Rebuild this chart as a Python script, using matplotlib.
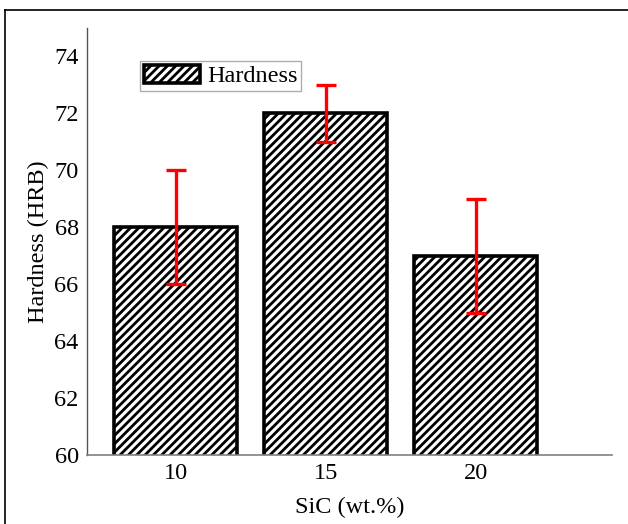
import matplotlib
matplotlib.use("Agg")
import matplotlib.pyplot as plt
from matplotlib.lines import Line2D

sic = ["10", "15", "20"]
hardness = [68, 72, 67]
err = [2, 1, 2]

plt.rcParams["font.family"] = ["Liberation Serif", "DejaVu Serif"]
plt.rcParams["hatch.linewidth"] = 2.0
plt.rcParams["hatch.color"] = "black"

fig = plt.figure(figsize=(6.28, 5.24), dpi=100)
ax = fig.add_axes([87 / 628, 1 - 455 / 524, 525 / 628, 427 / 524])

x = range(len(sic))
ax.bar(x, hardness, width=0.82, color="white", edgecolor="black",
       linewidth=2.6, hatch="////", label="Hardness", zorder=2)
ax.errorbar(x, hardness, yerr=err, fmt="none", ecolor="#ff0000",
            elinewidth=2.4, capsize=7, capthick=2.4, zorder=3)

ax.set_xlim(-0.593, 2.907)
ax.set_ylim(60, 75)
ax.set_yticks(range(60, 75, 2))
ax.set_xticks(list(x))
ax.set_xticklabels(sic)
ax.tick_params(length=0, labelsize=17.5, pad=6)

for s in ["top", "right"]:
    ax.spines[s].set_visible(False)
ax.spines["left"].set_color("#555555")
ax.spines["bottom"].set_color("#808080")
ax.spines["left"].set_linewidth(1.0)
ax.spines["bottom"].set_linewidth(1.2)

ax.set_xlabel("SiC (wt.%)", fontsize=17.5, labelpad=9)
ax.set_ylabel("Hardness (HRB)", fontsize=17.5, labelpad=4)

leg = ax.legend(loc="upper left", bbox_to_anchor=(0.101, 0.922), borderaxespad=0,
                fontsize=17.5, fancybox=False, handlelength=2.3, handleheight=0.75,
                handletextpad=0.3, borderpad=0.15)
leg.get_frame().set_edgecolor("#999999")
leg.get_frame().set_linewidth(1.0)

# frame around the figure (top and left edges visible)
fig.add_artist(Line2D([5 / 628, 5 / 628], [0, 1 - 10 / 524], transform=fig.transFigure,
                      color="black", linewidth=1.2))
fig.add_artist(Line2D([5 / 628, 1], [1 - 10 / 524, 1 - 10 / 524], transform=fig.transFigure,
                      color="black", linewidth=1.2))

fig.savefig("out.png", dpi=100)
